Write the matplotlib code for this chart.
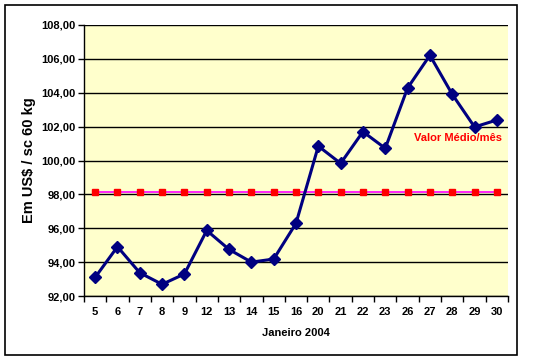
import matplotlib
matplotlib.use("Agg")
import matplotlib.pyplot as plt
from matplotlib.patches import Rectangle
from matplotlib.ticker import FixedLocator, NullFormatter

days = ["5", "6", "7", "8", "9", "12", "13", "14", "15", "16", "20", "21", "22",
        "23", "26", "27", "28", "29", "30"]
prices = [93.10, 94.91, 93.37, 92.69, 93.30, 95.87, 94.75, 94.00, 94.18, 96.29,
          100.85, 99.83, 101.70, 100.72, 104.28, 106.21, 103.91, 101.98, 102.39]
mean_value = 98.14
mean_series = [mean_value] * len(days)
yticks = [92, 94, 96, 98, 100, 102, 104, 106, 108]
ytick_labels = [f"{v:.2f}".replace(".", ",") for v in yticks]

plt.rcParams['font.family'] = ['Liberation Sans', 'DejaVu Sans']
plt.rcParams['font.weight'] = 'bold'

fig = plt.figure(figsize=(5.44, 3.61), dpi=100)
fig.patch.set_facecolor("white")
fig.add_artist(Rectangle((5/544, 1 - 355/361), 512/544, 350/361,
                         transform=fig.transFigure, fill=False,
                         edgecolor="black", linewidth=1.2))

ax = fig.add_axes([84/544, 1 - 296/361, 424/544, 271/361])
ax.set_facecolor("#FFFFCC")
x = list(range(len(days)))

ax.set_ylim(92, 108)
ax.set_xlim(-0.5, len(days) - 0.5)
ax.set_yticks(yticks)
ax.set_yticklabels(ytick_labels, fontsize=8, fontweight='bold')
ax.yaxis.grid(True, color="black", linewidth=1)
ax.set_axisbelow(True)

ax.xaxis.set_major_locator(FixedLocator([i - 0.5 for i in range(len(days) + 1)]))
ax.xaxis.set_major_formatter(NullFormatter())
ax.xaxis.set_minor_locator(FixedLocator(x))
ax.set_xticklabels(days, minor=True, fontsize=8, fontweight='bold')
ax.tick_params(axis='x', which='minor', length=0, pad=8)
ax.tick_params(axis='x', which='major', length=4, width=1)
ax.tick_params(axis='y', length=4, width=1, pad=2)

for s in ["top", "right"]:
    ax.spines[s].set_visible(False)
ax.spines["left"].set_linewidth(1)
ax.spines["bottom"].set_linewidth(1)

ax.plot(x, mean_series, color="#FF00FF", linewidth=1.2, marker="s",
        markersize=5, markerfacecolor="#FF0000", markeredgecolor="#FF0000",
        clip_on=False, zorder=3)
ax.plot(x, prices, color="#000080", linewidth=2.2, marker="D",
        markersize=6.5, markerfacecolor="#000080", markeredgecolor="#000080",
        clip_on=False, zorder=4)

ax.text(18.25, 101.35, "Valor Médio/mês", color="#FF0000", fontsize=8,
        fontweight='bold', ha='right', va='center')

ax.set_ylabel("Em US$ / sc 60 kg", fontsize=10.5, fontweight='bold', labelpad=4)
ax.set_xlabel("Janeiro 2004", fontsize=8, fontweight='bold', labelpad=8)

fig.savefig("out.png", dpi=100)
